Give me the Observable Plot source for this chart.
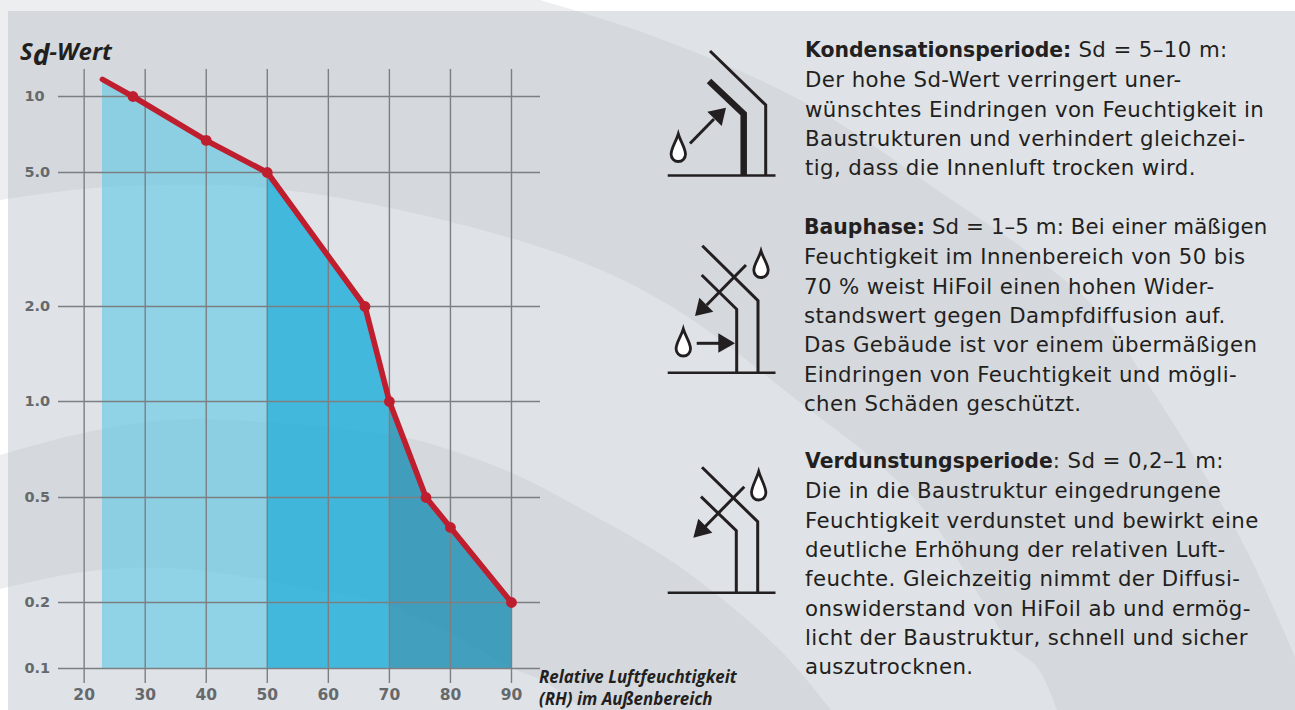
<!DOCTYPE html>
<html lang="de">
<head>
<meta charset="utf-8">
<script src="https://cdn.jsdelivr.net/npm/d3@7"></script>
<script src="https://cdn.jsdelivr.net/npm/@observablehq/plot@0.6"></script>
<style>
html,body{margin:0;padding:0;background:#fff;overflow:hidden}
#page{position:relative;width:1295px;height:710px;overflow:hidden}
#bg,#icons,#chart{position:absolute;left:0;top:0}
#chart svg{display:block;background:transparent;overflow:visible}
.block{position:absolute;font-family:"DejaVu Sans",sans-serif;font-size:21.3px;letter-spacing:.4px;line-height:29.35px;color:#231f20;white-space:nowrap}
.block b{font-weight:700;font-size:20.4px;letter-spacing:0}
.lab{position:absolute;font-family:"Open Sans",sans-serif;font-style:italic;font-weight:700;color:#231f20;white-space:nowrap}
</style>
</head>
<body>
<div id="page">
  <svg id="bg" width="1295" height="710"></svg>
  <div id="chart"></div>
  <svg id="icons" width="1295" height="710"></svg>
  <div class="lab" style="left:20px;top:33px;font-size:24px;line-height:32px">S<span style="font-size:28px;position:relative;top:5px">d</span>-Wert</div>
  <div class="lab" style="left:539px;top:666px;font-size:16.9px;line-height:22px">Relative Luftfeuchtigkeit<br>(RH) im Außenbereich</div>
  <div class="block" style="left:805px;top:35px"><b>Kondensationsperiode:</b> Sd = 5–10 m:<br>Der hohe Sd-Wert verringert uner-<br>wünschtes Eindringen von Feuchtigkeit in<br>Baustrukturen und verhindert gleichzei-<br>tig, dass die Innenluft trocken wird.</div>
  <div class="block" style="left:804px;top:212px"><b>Bauphase:</b> <span style="letter-spacing:.1px">Sd = 1–5 m: Bei einer mäßigen</span><br>Feuchtigkeit im Innenbereich von 50 bis<br>70 % weist HiFoil einen hohen Wider-<br>standswert gegen Dampfdiffusion auf.<br>Das Gebäude ist vor einem übermäßigen<br>Eindringen von Feuchtigkeit und mögli-<br>chen Schäden geschützt.</div>
  <div class="block" style="left:805px;top:446px"><b>Verdunstungsperiode</b>: Sd = 0,2–1 m:<br>Die in die Baustruktur eingedrungene<br>Feuchtigkeit verdunstet und bewirkt eine<br>deutliche Erhöhung der relativen Luft-<br>feuchte. Gleichzeitig nimmt der Diffusi-<br>onswiderstand von HiFoil ab und ermög-<br>licht der Baustruktur, schnell und sicher<br>auszutrocknen.</div>
</div>
<script>
// ---- chart data ----
const rhValues = [23, 28, 40, 50, 66, 70, 76, 80, 90];
const sdValues = [11.7, 10, 6.7, 5, 2, 1, 0.5, 0.385, 0.2];
const dotted = [false, true, true, true, true, true, true, true, true];
const xTicks = [20, 30, 40, 50, 60, 70, 80, 90];
const yTicks = [0.1, 0.2, 0.5, 1, 2, 5, 10];
const phaseBreaks = [[23, 50], [50, 70], [70, 90]];
const phaseFills = ["#5dc8e6", "#0ca9d8", "#0d89b0"];
const phaseOpacity = [0.6, 0.75, 0.75];

const xEnds = [15.8, 94.75];
const yEnds = [0.08, 12.8];
const baseline = 0.1;

const table = rhValues.map((x, i) => ({x, y: sdValues[i], dot: dotted[i]}));
const inkGrid = "#7c7f82", red = "#bf1e2e", tickInk = "#66696c";

const chart = Plot.plot({
  width: 700, height: 710,
  marginLeft: 58, marginRight: 160, marginTop: 69, marginBottom: 27,
  style: {background: "transparent"},
  x: {type: "linear", domain: xEnds, range: [58, 540]},
  y: {type: "log", domain: [yEnds[0], ...yTicks, yEnds[1]], range: [683, 668, 602, 497, 401, 306, 172, 96, 69]},
  marks: [
    ...phaseBreaks.map(([a, b], i) => Plot.areaY(table.filter(d => d.x >= a && d.x <= b), {
      x: "x", y1: baseline, y2: "y", fill: phaseFills[i], fillOpacity: phaseOpacity[i], curve: "linear"
    })),
    Plot.ruleX(xTicks, {y1: yEnds[0], y2: yEnds[1], stroke: inkGrid, strokeWidth: 1.4}),
    Plot.ruleY(yTicks, {x1: xEnds[0], x2: xEnds[1], stroke: inkGrid, strokeWidth: 1.4}),
    Plot.line(table, {x: "x", y: "y", stroke: red, strokeWidth: 5.6, strokeLinejoin: "round"}),
    Plot.dot(table.filter(d => d.dot), {x: "x", y: "y", r: 5.4, fill: red}),
    Plot.axisX(xTicks, {anchor: "bottom", tickSize: 0, tickPadding: 5, fontSize: 15.5, fontWeight: 700, fontFamily: "DejaVu Sans", fill: tickInk, label: null, tickFormat: d => String(d)}),
    Plot.axisY(yTicks, {anchor: "left", tickSize: 0, tickPadding: 0, dx: -34, textAnchor: "start", fontSize: 14.5, fontWeight: 700, fontFamily: "DejaVu Sans", fill: tickInk, label: null, tickFormat: d => d >= 10 ? String(d) : d.toFixed(1)})
  ]
});
document.getElementById("chart").appendChild(chart);

// ---- decorative background ----
const curve = d3.line().curve(d3.curveCatmullRom.alpha(0.5));
const edgeA = [[540,0],[650,35],[800,100],[952,200],[1043,263],[1100,313],[1150,387],[1200,467],[1250,557],[1295,657]];
const edgeB = [[0,200],[83,189],[167,185],[267,188],[400,210],[571,258],[674,308],[793,397],[914,498],[1013,647],[1037,667],[1057,710]];
const edgeC = [[0,455],[83,433],[167,420],[267,422],[407,438],[450,450],[510,472],[580,508],[680,567],[780,650],[831,710]];
const edgeD = [[0,589],[83,572],[167,568],[233,575],[300,587],[380,603],[450,633],[510,667],[547,683],[583,710]];
const band1d = curve(edgeA) + "L1295,710L" + curve(edgeB.slice().reverse()).slice(1) + "L0,0Z";
const band2d = curve(edgeC) + "L" + curve(edgeD.slice().reverse()).slice(1) + "Z";
const bg = d3.select("#bg");
bg.append("rect").attr("width", 1295).attr("height", 710).attr("fill", "#fff");
bg.append("path").attr("d", band1d).attr("fill", "#eceef0");
bg.append("path").attr("d", band2d).attr("fill", "#eceef0");
bg.append("clipPath").attr("id", "panel").append("rect").attr("x", 8).attr("y", 11).attr("width", 1287).attr("height", 699);
const p = bg.append("g").attr("clip-path", "url(#panel)");
p.append("rect").attr("width", 1295).attr("height", 710).attr("fill", "#dfe3e7");
p.append("path").attr("d", band1d).attr("fill", "#d5d9dd");
p.append("path").attr("d", band2d).attr("fill", "#d5d9dd");

// ---- icons ----
const ink = "#231f20";
const ic = d3.select("#icons");
const stroke = (pts, w) => ic.append("path").attr("d", d3.line()(pts)).attr("fill", "none").attr("stroke", ink).attr("stroke-width", w);
const tri = pts => ic.append("path").attr("d", d3.line()(pts) + "Z").attr("fill", ink);
const drop = (cx, top, bottom) => {
  const r = 7.2, c = bottom - r;
  ic.append("path").attr("d", `M${cx},${top}C${cx+2},${top+7} ${cx+r},${c-6} ${cx+r},${c}A${r} ${r} 0 0 1 ${cx-r},${c}C${cx-r},${c-6} ${cx-2},${top+7} ${cx},${top}Z`)
    .attr("fill", "#fff").attr("stroke", ink).attr("stroke-width", 2.8);
};
// icon 1
stroke([[667.7,175.5],[775.5,175.5]], 2.6);
stroke([[710,51],[765.7,105],[765.7,175]], 3);
stroke([[709,81],[743.7,114],[743.7,175]], 6.5);
stroke([[690,143.5],[714,119]], 3);
tri([[726,107.7],[707.3,111.7],[721.7,126]]);
drop(678.3, 134, 161.5);
// icon 2
stroke([[667.7,372.7],[775.5,372.7]], 2.6);
stroke([[702.3,245.7],[758,300.7],[758,372.7]], 3);
stroke([[701.7,275],[736.7,309.3],[736.7,372.7]], 3);
stroke([[746,265],[706.7,305]], 3);
tri([[695,316],[699.3,297.7],[713.3,311.7]]);
drop(761, 251, 277.5);
drop(683.3, 329, 356);
stroke([[696.7,343.3],[720,343.3]], 3);
tri([[735,343.3],[718.3,333.3],[718.3,352.7]]);
// icon 3
stroke([[667.7,592.7],[775.5,592.7]], 2.6);
stroke([[702,467.3],[757.7,521.7],[757.7,592.7]], 3);
stroke([[701,496.7],[736.3,530.7],[736.3,592.7]], 3);
stroke([[744.3,486.7],[705,526.7]], 3);
tri([[693.3,537.7],[698.3,518.7],[712.3,532.7]]);
drop(758.7, 471.5, 500);
</script>
</body>
</html>
